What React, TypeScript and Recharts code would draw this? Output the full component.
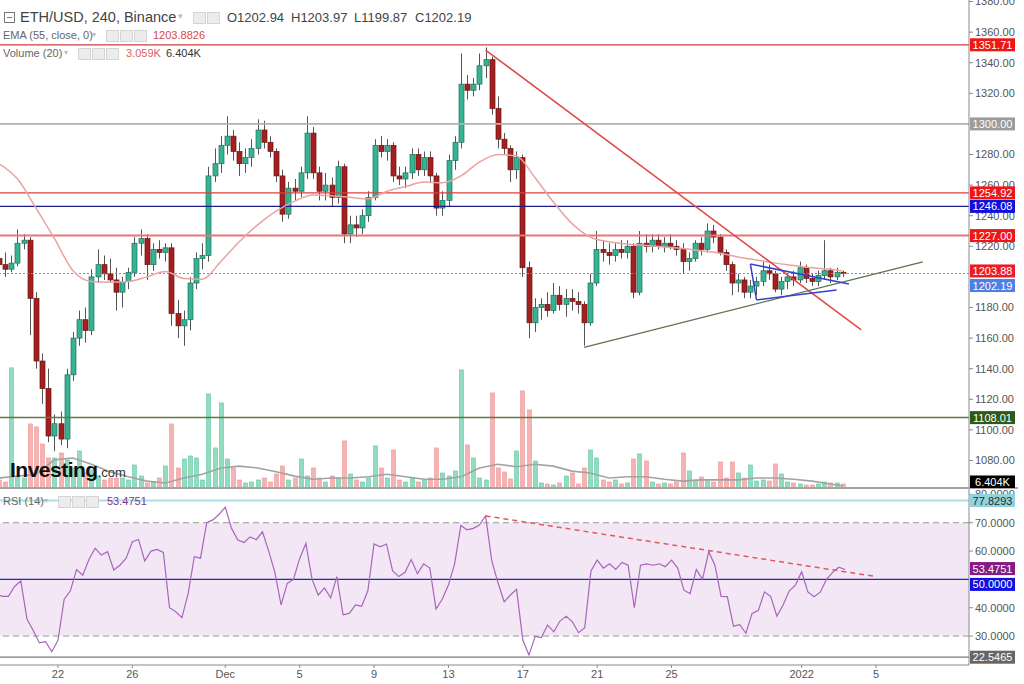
import React from 'react'
import { ComposedChart, Bar, Line, XAxis, YAxis, ReferenceLine, ReferenceArea } from 'recharts'

// 8-hour slots, slot 0 = Nov 18 16:00
const opens = [
  1212, 1208, 1205, 1209, 1222, 1224, 1186, 1145, 1127, 1096,
  1104, 1094, 1136, 1160, 1172, 1165, 1200, 1208, 1202, 1198,
  1190, 1197, 1203, 1222, 1225, 1208, 1218, 1216, 1219, 1176,
  1168, 1172, 1196, 1212, 1214, 1266, 1274, 1286, 1292, 1282,
  1274, 1278, 1284, 1296, 1288, 1282, 1266, 1241, 1258, 1256,
  1268, 1294, 1268, 1256, 1260, 1252, 1272, 1228, 1234, 1232,
  1240, 1252, 1286, 1282, 1286, 1266, 1264, 1268, 1280, 1270,
  1278, 1266, 1245, 1250, 1276, 1288, 1326, 1322, 1326, 1338,
  1342, 1310, 1290, 1284, 1270, 1278, 1206, 1170, 1180, 1182,
  1178, 1188, 1182, 1186, 1184, 1182, 1170, 1196, 1218, 1216,
  1214, 1218, 1216, 1220, 1190, 1222, 1220, 1224, 1220, 1222,
  1220, 1218, 1210, 1212, 1222, 1218, 1230, 1226, 1216, 1208,
  1196, 1198, 1190, 1194, 1197, 1204, 1202, 1192, 1197, 1200,
  1198, 1206, 1199, 1197, 1201, 1204, 1200, 1202.94,
]
const highs = [
  1222, 1216, 1214, 1231, 1228, 1226, 1190, 1150, 1140, 1110,
  1112, 1140, 1164, 1178, 1180, 1205, 1218, 1214, 1212, 1206,
  1200, 1206, 1226, 1231, 1228, 1222, 1224, 1222, 1222, 1185,
  1178, 1200, 1216, 1222, 1272, 1284, 1292, 1305, 1296, 1288,
  1284, 1290, 1303, 1302, 1292, 1284, 1270, 1262, 1264, 1272,
  1305, 1298, 1272, 1268, 1265, 1276, 1274, 1240, 1240, 1244,
  1256, 1290, 1292, 1290, 1288, 1272, 1272, 1284, 1284, 1282,
  1282, 1268, 1256, 1280, 1292, 1346, 1332, 1330, 1346, 1350,
  1344, 1318, 1294, 1286, 1282, 1280, 1210, 1186, 1186, 1190,
  1196, 1194, 1192, 1192, 1190, 1184, 1202, 1230, 1224, 1222,
  1222, 1224, 1224, 1222, 1230, 1228, 1228, 1228, 1226, 1228,
  1224, 1222, 1216, 1224, 1226, 1235, 1234, 1228, 1218, 1210,
  1202, 1200, 1198, 1200, 1210, 1208, 1204, 1200, 1202, 1204,
  1210, 1208, 1202, 1204, 1224, 1206, 1206, 1203.97,
]
const lows = [
  1205, 1200, 1203, 1207, 1218, 1162, 1140, 1117, 1092, 1086,
  1090, 1088, 1132, 1155, 1157, 1162, 1196, 1198, 1196, 1178,
  1180, 1192, 1200, 1214, 1198, 1204, 1212, 1210, 1168, 1160,
  1155, 1165, 1192, 1205, 1210, 1262, 1268, 1280, 1276, 1266,
  1268, 1272, 1280, 1284, 1278, 1262, 1236, 1238, 1250, 1252,
  1264, 1264, 1250, 1250, 1246, 1248, 1222, 1222, 1226, 1228,
  1236, 1250, 1278, 1276, 1262, 1260, 1258, 1264, 1266, 1266,
  1262, 1240, 1240, 1246, 1270, 1284, 1316, 1318, 1322, 1330,
  1306, 1284, 1280, 1262, 1264, 1200, 1160, 1164, 1172, 1174,
  1176, 1178, 1174, 1178, 1176, 1155, 1168, 1194, 1210, 1208,
  1210, 1212, 1212, 1186, 1188, 1216, 1216, 1218, 1216, 1218,
  1214, 1202, 1204, 1210, 1214, 1216, 1222, 1214, 1204, 1188,
  1190, 1186, 1186, 1188, 1194, 1198, 1190, 1188, 1192, 1194,
  1196, 1196, 1194, 1194, 1198, 1196, 1198, 1199.87,
]
const closes = [
  1208, 1205, 1209, 1222, 1224, 1186, 1145, 1127, 1096, 1104,
  1094, 1136, 1160, 1172, 1165, 1200, 1208, 1202, 1198, 1190,
  1197, 1203, 1222, 1225, 1208, 1218, 1216, 1219, 1176, 1168,
  1172, 1196, 1212, 1214, 1266, 1274, 1286, 1292, 1282, 1274,
  1278, 1284, 1296, 1288, 1282, 1266, 1241, 1258, 1256, 1268,
  1294, 1268, 1256, 1260, 1252, 1272, 1228, 1234, 1232, 1240,
  1252, 1286, 1282, 1286, 1266, 1264, 1268, 1280, 1270, 1278,
  1266, 1245, 1250, 1276, 1288, 1326, 1322, 1326, 1338, 1342,
  1310, 1290, 1284, 1270, 1278, 1206, 1170, 1180, 1182, 1178,
  1188, 1182, 1186, 1184, 1182, 1170, 1196, 1218, 1216, 1214,
  1218, 1216, 1220, 1190, 1222, 1220, 1224, 1220, 1222, 1220,
  1218, 1210, 1212, 1222, 1218, 1230, 1226, 1216, 1208, 1196,
  1198, 1190, 1194, 1197, 1204, 1202, 1192, 1197, 1200, 1198,
  1206, 1199, 1197, 1201, 1204, 1200, 1203, 1202.19,
]
// volume in K
const volumes = [
  12.8, 9.6, 192, 19.2, 16, 102.4, 97.6, 70.4, 48, 48,
  56, 44.8, 32, 59.2, 24, 28.8, 19.2, 12.8, 16, 16,
  16, 12.8, 36.8, 19.2, 8, 9.6, 16, 35.2, 102.4, 32,
  46.4, 51.2, 48, 12.8, 150.4, 64, 136, 46.4, 32, 12.8,
  8, 9.6, 12.8, 16, 9.6, 22.4, 35.2, 12.8, 16, 46.4,
  19.2, 32, 16, 9.6, 19.2, 16, 75.2, 22.4, 12.8, 9.6,
  16, 67.2, 32, 16, 60.8, 12.8, 9.6, 16, 9.6, 12.8,
  16, 64, 24, 19.2, 27.2, 188.8, 68.8, 48, 16, 12.8,
  152, 32, 25.6, 14.4, 59.2, 155.2, 124.8, 43.2, 8, 6.4,
  4.8, 8, 19.2, 24, 6.4, 32, 60.8, 48, 12.8, 9.6,
  12.8, 6.4, 8, 46.4, 54.4, 43.2, 9.6, 6.4, 8, 6.4,
  9.6, 56, 27.2, 12.8, 17.6, 12.8, 9.6, 41.6, 16, 41.6,
  24, 16, 36.8, 11.2, 12.8, 11.2, 38.4, 22.4, 9.6, 8,
  6.4, 4.8, 4.8, 6.4, 9.6, 8, 8, 6.404,
]
const rsiValues = [
  45, 44, 44, 47.5, 49.5, 36, 32, 27.6, 28, 24.5,
  28.5, 43, 46, 53.5, 51.5, 57, 61, 58.6, 59.8, 53.3,
  55, 57.5, 63.3, 64.1, 56.5, 60, 60.6, 59.5, 40, 38.6,
  36.5, 45, 58, 57.5, 70, 71, 73, 75.5, 68, 64,
  63, 65, 64, 66.8, 60, 52.5, 41, 48.6, 50, 57.4,
  62.7, 50, 44.5, 47, 43.5, 51, 37.5, 38, 41, 40.5,
  46, 62.5, 61.5, 62.5, 53, 51, 52.5, 57, 52, 55.5,
  54, 39.5, 43, 48, 55.5, 69, 67.5, 68, 69.2, 72.4,
  56.5, 48.8, 42.1, 44.5, 46.5, 28.6, 23.3, 29.9, 29.5, 33.9,
  31.5, 35.3, 37, 35, 31.2, 33, 53, 56.8, 54, 55.5,
  53.5, 56, 55, 40, 55, 55.5, 55, 55.5, 54.5, 56.8,
  54, 46.2, 45, 53.5, 50, 59.8, 55, 44, 43.9, 33.5,
  34, 31, 38, 39, 45.6, 44, 37, 41, 46, 48,
  52.7, 45.6, 43.9, 45.5, 50, 52.5, 54.3, 53.4751,
]
const dailySlots = [
  0, 3, 6, 9, 12, 15, 18, 21, 24, 27, 30, 33, 36, 39, 42, 45, 48, 51, 54, 57,
  60, 63, 66, 69, 72, 75, 78, 81, 84, 87, 90, 93, 96, 99, 102, 105, 108, 111,
  114, 117, 120, 123, 126, 129, 132, 135, 137,
]
const emaValues = [
  1274, 1264, 1245, 1225, 1204, 1197, 1196.5, 1197, 1200, 1203.5, 1199, 1198.5,
  1210, 1223, 1234, 1243, 1249.5, 1253.5, 1253, 1252, 1251, 1256, 1259, 1262,
  1261.5, 1266, 1275, 1280, 1279, 1265, 1249, 1235, 1226, 1223, 1221.5, 1220.5,
  1219.5, 1218.5, 1217, 1215.5, 1213, 1211, 1209, 1207.5, 1206, 1205, 1203.88,
]
const volMaValues = [
  16, 19, 22, 45, 48, 38, 26, 18, 11, 8, 16, 22, 32, 35, 32, 26, 19, 14, 16, 16,
  18, 22, 18, 14, 14, 18, 32, 38, 34, 38, 35, 27, 24, 16, 18, 18, 14, 11, 13, 13,
  13, 16, 16, 14, 11, 6.4, 3.059,
]
const dateTicks = [10, 22, 37, 49, 61, 73, 85, 97, 109, 130, 142]
const dateLabels = ['22', '26', 'Dec', '5', '9', '13', '17', '21', '25', '2022', '5']
// 1200, 1300 and 50 sit fully under value tags, as in the source chart
const priceTicks = [1080, 1100, 1120, 1140, 1160, 1180, 1220, 1240, 1260, 1280, 1320, 1340, 1360, 1380]
const rsiTicks = [30, 40, 60, 70, 80]

const SLOTS = 158
const W = 1028
const AXIS_W = 55
const PRICE_DOMAIN = [1062, 1381]
const RSI_DOMAIN = [19.8, 81.9]
const FONT = '"Liberation Sans", Arial, sans-serif'

const rows = Array.from({ length: SLOTS }, (_, i) => {
  const has = i < closes.length
  const d = dailySlots.indexOf(i)
  return {
    i,
    range: has ? [lows[i], highs[i]] : null,
    open: has ? opens[i] : null,
    close: has ? closes[i] : null,
    vol: has ? volumes[i] : null,
    rsi: has ? rsiValues[i] : null,
    ema: d >= 0 ? emaValues[d] : null,
    volMa: d >= 0 ? volMaValues[d] : null,
  }
})

function Candle(props: any) {
  const { x, y, width, height, payload } = props
  if (!payload || payload.range == null || isNaN(y)) return <g />
  const [low, high] = payload.range
  const top = Math.min(y, y + height)
  const h = Math.abs(height)
  const k = high === low ? 0 : h / (high - low)
  const py = (v: number) => top + (high - v) * k
  const c = Math.round(x + width / 2)
  const up = payload.close >= payload.open
  const bt = py(Math.max(payload.open, payload.close))
  const bb = py(Math.min(payload.open, payload.close))
  return (
    <g>
      <rect x={c} y={top} width={1} height={h} fill="#555" />
      <rect
        x={c - 2}
        y={bt}
        width={5}
        height={Math.max(1, bb - bt)}
        fill={up ? '#35b394' : '#a3201f'}
        stroke={up ? '#1f6f5c' : '#6b1313'}
        strokeWidth={0.7}
      />
    </g>
  )
}

function VolBar(props: any) {
  const { x, y, width, height, payload } = props
  if (!payload || payload.vol == null || isNaN(y)) return <g />
  const up = payload.close >= payload.open
  const c = Math.round(x + width / 2)
  return (
    <rect
      x={c - 1.5}
      y={Math.min(y, y + height)}
      width={4}
      height={Math.abs(height)}
      fill={up ? '#92dcc0' : '#f6b3b3'}
      stroke={up ? '#63c9a4' : '#ef9494'}
      strokeWidth={0.6}
    />
  )
}

function Tag(props: any) {
  const { viewBox, text, bg, fg = '#fff', shift = 0 } = props
  if (!viewBox) return null
  const x = viewBox.x + viewBox.width
  const y = viewBox.y + shift
  return (
    <g>
      <rect x={x + 1} y={y - 6.5} width={45} height={13} fill={bg} />
      <text x={x + 23.5} y={y + 4} textAnchor="middle" fontSize={11} fill={fg} fontFamily={FONT}>
        {text}
      </text>
    </g>
  )
}

const axisTick = { fontSize: 11, fill: '#555', fontFamily: FONT }

function VolumeChart() {
  return (
    <ComposedChart width={W} height={488} data={rows} margin={{ top: 0, right: AXIS_W, bottom: 0, left: 0 }} barCategoryGap={0}>
      <XAxis dataKey="i" hide />
      <YAxis domain={[0, 780]} allowDataOverflow hide />
      <Bar dataKey="vol" shape={(p: any) => <VolBar {...p} />} isAnimationActive={false} />
      <Line dataKey="volMa" stroke="#a3a3a3" strokeWidth={1.6} dot={false} connectNulls isAnimationActive={false} />
    </ComposedChart>
  )
}

function PriceChart() {
  return (
    <ComposedChart width={W} height={488} data={rows} margin={{ top: 0, right: 0, bottom: 0, left: 0 }} barCategoryGap={0}>
      <XAxis dataKey="i" hide />
      <YAxis
        orientation="right"
        width={AXIS_W}
        domain={PRICE_DOMAIN}
        allowDataOverflow
        ticks={priceTicks}
        interval={0}
        tickFormatter={(v: number) => v.toFixed(2)}
        tick={axisTick}
        tickSize={4}
        axisLine={{ stroke: '#8a8a8a' }}
        tickLine={{ stroke: '#8a8a8a' }}
      />
      <ReferenceLine y={1351.71} stroke="#d33a3a" strokeWidth={1.2} />
      <ReferenceLine y={1300} stroke="#b0b0b0" strokeWidth={1.6} />
      <ReferenceLine y={1254.92} stroke="#d84040" strokeWidth={1.2} />
      <ReferenceLine y={1246.08} stroke="#1c1c8a" strokeWidth={1.2} />
      <ReferenceLine y={1227} stroke="#e57676" strokeWidth={2} />
      <ReferenceLine y={1202.19} stroke="#6a86e0" strokeDasharray="2 2" />
      <ReferenceLine y={1108.01} stroke="#5e7a3c" strokeWidth={1.5} />
      <Bar dataKey="range" shape={(p: any) => <Candle {...p} />} isAnimationActive={false} />
      <Line dataKey="ema" type="monotone" stroke="#eba2a2" strokeWidth={1.5} dot={false} connectNulls isAnimationActive={false} />
      <ReferenceLine segment={[{ x: 79, y: 1348.3 }, { x: 140, y: 1165.3 }]} stroke="#e04848" strokeWidth={1.5} />
      <ReferenceLine segment={[{ x: 95, y: 1154 }, { x: 150, y: 1209.8 }]} stroke="#5b7450" strokeWidth={1.3} />
      <ReferenceLine segment={[{ x: 122, y: 1208.4 }, { x: 138, y: 1195.4 }]} stroke="#3341d0" strokeWidth={1.5} />
      <ReferenceLine segment={[{ x: 123, y: 1184.9 }, { x: 136, y: 1191.4 }]} stroke="#3341d0" strokeWidth={1.5} />
      <ReferenceLine segment={[{ x: 122, y: 1208.4 }, { x: 123, y: 1184.9 }]} stroke="#3341d0" strokeWidth={1.5} />
    </ComposedChart>
  )
}

// value tags on the price scale, drawn above the axis labels
function PriceTags() {
  return (
    <ComposedChart width={W} height={488} data={rows} margin={{ top: 0, right: AXIS_W, bottom: 0, left: 0 }}>
      <XAxis dataKey="i" hide />
      <YAxis domain={PRICE_DOMAIN} allowDataOverflow hide />
      <YAxis yAxisId="vol" domain={[0, 780]} allowDataOverflow hide />
      <ReferenceLine y={1351.71} stroke="none" label={<Tag text="1351.71" bg="#f01616" />} />
      <ReferenceLine y={1300} stroke="none" label={<Tag text="1300.00" bg="#9c9c9c" />} />
      <ReferenceLine y={1254.92} stroke="none" label={<Tag text="1254.92" bg="#f01616" />} />
      <ReferenceLine y={1246.08} stroke="none" label={<Tag text="1246.08" bg="#1010dd" />} />
      <ReferenceLine y={1227} stroke="none" label={<Tag text="1227.00" bg="#f01616" />} />
      <ReferenceLine y={1203.88} stroke="none" label={<Tag text="1203.88" bg="#ec1c24" />} />
      <ReferenceLine y={1202.19} stroke="none" label={<Tag text="1202.19" bg="#4f7fe3" shift={12} />} />
      <ReferenceLine y={1108.01} stroke="none" label={<Tag text="1108.01" bg="#2c5a18" />} />
      <ReferenceLine yAxisId="vol" y={6.404} stroke="none" label={<Tag text="6.404K" bg="#000" shift={-2} />} />
    </ComposedChart>
  )
}

function RsiChart() {
  return (
    <ComposedChart width={W} height={195} data={rows} margin={{ top: 0, right: 0, bottom: 0, left: 0 }}>
      <XAxis
        dataKey="i"
        ticks={dateTicks}
        interval={0}
        height={19}
        tickFormatter={(v: number) => dateLabels[dateTicks.indexOf(Number(v))]}
        tick={axisTick}
        tickSize={3}
        axisLine={{ stroke: '#8a8a8a' }}
        tickLine={{ stroke: '#8a8a8a' }}
      />
      <YAxis
        orientation="right"
        width={AXIS_W}
        domain={RSI_DOMAIN}
        allowDataOverflow
        ticks={rsiTicks}
        interval={0}
        tickFormatter={(v: number) => v.toFixed(4)}
        tick={axisTick}
        tickSize={4}
        axisLine={{ stroke: '#8a8a8a' }}
        tickLine={{ stroke: '#8a8a8a' }}
      />
      <ReferenceArea y1={30} y2={70} fill="#f3e7f5" fillOpacity={1} stroke="none" />
      <ReferenceLine y={70} stroke="#999" strokeDasharray="6 4" />
      <ReferenceLine y={30} stroke="#999" strokeDasharray="6 4" />
      <ReferenceLine y={77.8293} stroke="#acdfe6" strokeWidth={2} />
      <ReferenceLine y={22.5465} stroke="#7a7a7a" strokeWidth={1.2} />
      <ReferenceLine y={50} stroke="#2626c8" strokeWidth={1.2} />
      <ReferenceLine segment={[{ x: 79, y: 72.4 }, { x: 142, y: 51.0 }]} stroke="#e05a5a" strokeDasharray="5 4" strokeWidth={1.5} />
      <Line dataKey="rsi" stroke="#a866bb" strokeWidth={1.2} dot={false} isAnimationActive={false} />
    </ComposedChart>
  )
}

function RsiTags() {
  return (
    <ComposedChart width={W} height={195} data={rows} margin={{ top: 0, right: AXIS_W, bottom: 19, left: 0 }}>
      <XAxis dataKey="i" hide />
      <YAxis domain={RSI_DOMAIN} allowDataOverflow hide />
      <ReferenceLine y={77.8293} stroke="none" label={<Tag text="77.8293" bg="#8fd3df" fg="#2a2a2a" />} />
      <ReferenceLine y={22.5465} stroke="none" label={<Tag text="22.5465" bg="#666" />} />
      <ReferenceLine y={53.4751} stroke="none" label={<Tag text="53.4751" bg="#861a86" shift={-1} />} />
      <ReferenceLine y={50} stroke="none" label={<Tag text="50.0000" bg="#1010e0" shift={5} />} />
    </ComposedChart>
  )
}

function Txt({ x, y, size = 11, color = '#666', weight = 400, children }: any) {
  return (
    <span style={{ position: 'absolute', left: x, top: y, fontSize: size, color, fontWeight: weight, lineHeight: 1, whiteSpace: 'nowrap' }}>
      {children}
    </span>
  )
}

function Icon({ x, y }: any) {
  return <div style={{ position: 'absolute', left: x, top: y, width: 11, height: 10, background: '#ececec', border: '1px solid #d4d4d4' }} />
}

function Header() {
  return (
    <div style={{ position: 'absolute', left: 0, top: 0, width: 1024, height: 684, pointerEvents: 'none' }}>
      <div style={{ position: 'absolute', left: 4, top: 12, width: 9, height: 9, border: '1px solid #777' }}>
        <div style={{ position: 'absolute', left: 2, top: 4, width: 5, height: 1, background: '#777' }} />
      </div>
      <Txt x={20} y={10} size={14.5} color="#444">ETH/USD, 240, Binance</Txt>
      <Txt x={178} y={12} size={9} color="#bbb">▾</Txt>
      <Icon x={193} y={12} />
      <Icon x={207} y={12} />
      <Txt x={227} y={11} size={13} color="#444">O1202.94</Txt>
      <Txt x={291} y={11} size={13} color="#444">H1203.97</Txt>
      <Txt x={354} y={11} size={13} color="#444">L1199.87</Txt>
      <Txt x={415} y={11} size={13} color="#444">C1202.19</Txt>

      <Txt x={3} y={30} size={11} color="#666">EMA (55, close, 0)</Txt>
      <Txt x={92} y={31} size={8} color="#bbb">▾</Txt>
      <Icon x={106} y={30} />
      <Icon x={120} y={30} />
      <Icon x={134} y={30} />
      <Txt x={153} y={30} size={11} color="#d94848">1203.8826</Txt>

      <Txt x={3} y={48} size={11} color="#666">Volume (20)</Txt>
      <Txt x={64} y={49} size={8} color="#bbb">▾</Txt>
      <Icon x={78} y={48} />
      <Icon x={92} y={48} />
      <Icon x={106} y={48} />
      <Txt x={126} y={48} size={11} color="#e06060">3.059K</Txt>
      <Txt x={166} y={48} size={11} color="#333">6.404K</Txt>

      <Txt x={3} y={496} size={11} color="#666">RSI (14)</Txt>
      <Txt x={44} y={497} size={8} color="#bbb">▾</Txt>
      <Icon x={58} y={496} />
      <Icon x={72} y={496} />
      <Icon x={86} y={496} />
      <Txt x={107} y={496} size={11} color="#7a3a8a">53.4751</Txt>

      <div style={{ position: 'absolute', left: 10, top: 459, lineHeight: 1, whiteSpace: 'nowrap' }}>
        <span style={{ fontSize: 21, fontWeight: 700, color: '#111', letterSpacing: -0.5 }}>Investing</span>
        <span style={{ fontSize: 13, color: '#333' }}>.com</span>
      </div>
    </div>
  )
}

export default function App() {
  return (
    <div style={{ position: 'absolute', left: 0, top: 0, width: 1024, height: 684, overflow: 'hidden', background: '#fff', fontFamily: FONT }}>
      <div style={{ position: 'absolute', left: -4, top: 0 }}>
        <VolumeChart />
      </div>
      <div style={{ position: 'absolute', left: -4, top: 0 }}>
        <PriceChart />
      </div>
      <div style={{ position: 'absolute', left: 0, top: 487, width: 1018, height: 2, background: '#a5a5a5' }} />
      <div style={{ position: 'absolute', left: -4, top: 489 }}>
        <RsiChart />
      </div>
      <div style={{ position: 'absolute', left: -4, top: 0 }}>
        <PriceTags />
      </div>
      <div style={{ position: 'absolute', left: -4, top: 489 }}>
        <RsiTags />
      </div>
      <Header />
    </div>
  )
}
